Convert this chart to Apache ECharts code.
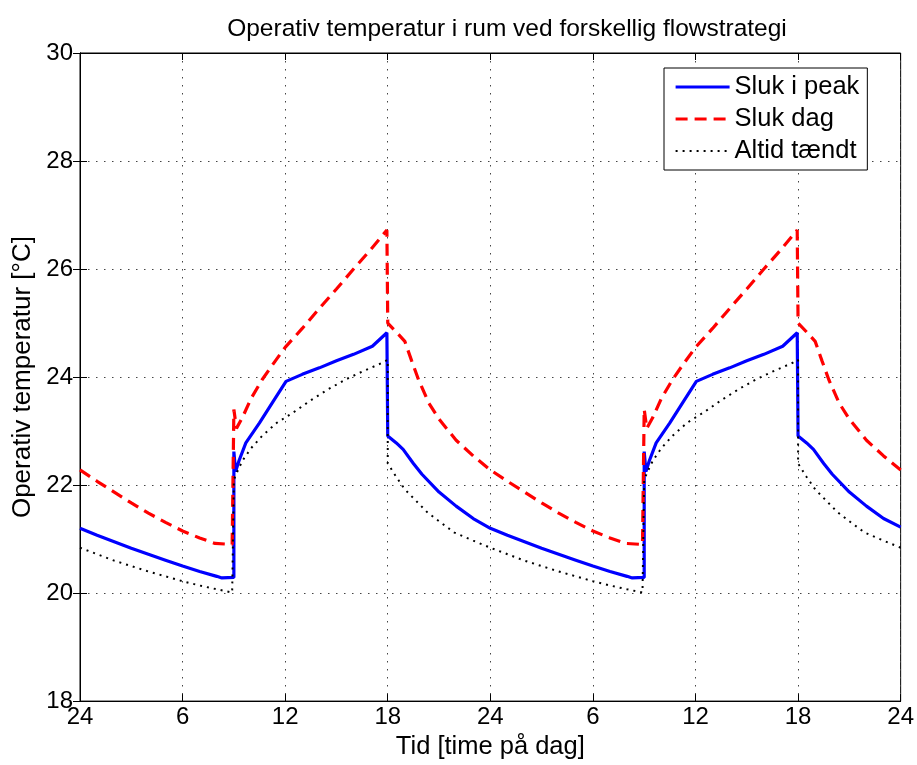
<!DOCTYPE html>
<html>
<head>
<meta charset="utf-8">
<script src="https://cdn.jsdelivr.net/npm/echarts@6/dist/echarts.min.js"></script>
<style>
html,body{margin:0;padding:0;background:#fff;}
#chart{width:917px;height:765px;}
</style>
</head>
<body>
<div id="chart"></div>
<script>
// ---- data ----
const xTickLabels = ['24','6','12','18','24','6','12','18','24'];
const seriesNames = ['Sluk i peak','Sluk dag','Altid tændt'];

const tPeak = [0,1,2,3,4,5,6,7,8,8.3,9.0,9.0,9.1,9.3,9.7,10.5,11.3,12.05,13,14,15,16,17.1,17.95,18.0,18.5,18.9,19.5,20,21,22,23,
  24,25,26,27,28,29,30,31,32,32.3,33.0,33.0,33.1,33.3,33.7,34.5,35.3,36.05,37,38,39,40,41.1,41.95,42.0,42.5,42.9,43.5,44,45,46,47,48];
const vPeak = [21.20,21.07,20.95,20.83,20.72,20.61,20.50,20.40,20.31,20.28,20.29,22.62,22.25,22.45,22.78,23.15,23.55,23.92,24.05,24.17,24.30,24.42,24.57,24.82,22.91,22.78,22.66,22.40,22.20,21.87,21.61,21.38,
  21.20,21.07,20.95,20.83,20.72,20.61,20.50,20.40,20.31,20.28,20.29,22.62,22.25,22.45,22.78,23.15,23.55,23.92,24.05,24.17,24.30,24.42,24.57,24.82,22.91,22.78,22.66,22.40,22.20,21.87,21.61,21.38,21.22];

const tDag = [0,1,2,3,4,5,6,7,7.9,8.9,9.0,9.15,9.5,10,10.65,11.2,12,13,14,15,16,17,17.95,18.0,18.6,19.0,19.4,19.8,20.4,21,22,23,
  24,25,26,27,28,29,30,31,31.9,32.9,33.0,33.15,33.5,34,34.65,35.2,36,37,38,39,40,41,41.95,42.0,42.6,43.0,43.4,43.8,44.4,45,46,47,48];
const vDag = [22.28,22.07,21.87,21.67,21.48,21.31,21.15,21.02,20.92,20.90,23.40,23.05,23.25,23.60,23.95,24.20,24.55,24.90,25.27,25.63,26.00,26.36,26.72,25.00,24.80,24.66,24.30,23.95,23.52,23.22,22.83,22.54,
  22.28,22.07,21.87,21.67,21.48,21.31,21.15,21.02,20.92,20.90,23.40,23.05,23.25,23.60,23.95,24.20,24.55,24.90,25.27,25.63,26.00,26.36,26.72,25.00,24.80,24.66,24.30,23.95,23.52,23.22,22.83,22.54,22.28];

const tAltid = [0,1,2,3,4,5,6,7,8,8.9,9.0,9.2,9.5,10,10.65,11.5,12.5,13.5,14.5,15.5,16.5,17.65,18.0,18.0,18.5,19,20.3,21,21.9,23,
  24,25,26,27,28,29,30,31,32,32.9,33.0,33.2,33.5,34,34.65,35.5,36.5,37.5,38.5,39.5,40.5,41.65,42.0,42.0,42.5,43,44.3,45,45.9,47,48];
const vAltid = [20.84,20.72,20.60,20.50,20.40,20.31,20.22,20.14,20.07,20.01,22.10,22.25,22.45,22.68,22.91,23.15,23.35,23.57,23.77,23.95,24.10,24.26,24.32,22.40,22.15,21.92,21.50,21.33,21.12,20.97,
  20.84,20.72,20.60,20.50,20.40,20.31,20.22,20.14,20.07,20.01,22.10,22.25,22.45,22.68,22.91,23.15,23.35,23.57,23.77,23.95,24.10,24.26,24.32,22.40,22.15,21.92,21.50,21.33,21.12,20.97,20.84];

function pairs(t, v){ return t.map((x,i)=>[x, v[i]]); }

const FONT = "'Liberation Sans', Arial, Helvetica, sans-serif";
const chart = echarts.init(document.getElementById('chart'), null, {renderer:'canvas'});

const gridLine = {show:true, lineStyle:{color:'#444', width:1, type:[1.5,6.5]}};
const option = {
  animation:false,
  backgroundColor:'#fff',
  textStyle:{fontFamily:FONT},
  title:{
    text:'Operativ temperatur i rum ved forskellig flowstrategi',
    left:502, top:12, textAlign:'center',
    textStyle:{fontFamily:FONT, fontSize:24.5, fontWeight:'normal', color:'#000'}
  },
  legend:{
    orient:'vertical', left:664, top:68,
    data:[
      {name:seriesNames[0], lineStyle:{width:3.2}},
      {name:seriesNames[1], lineStyle:{width:3.2}},
      {name:seriesNames[2], lineStyle:{width:2}}
    ],
    backgroundColor:'#fff', borderColor:'#000', borderWidth:1,
    padding:[6,8,6,10], itemGap:6, itemWidth:54, itemHeight:14,
    itemStyle:{opacity:0},
    textStyle:{fontFamily:FONT, fontSize:25.5, color:'#000', lineHeight:26}
  },
  grid:{left:80, right:15, top:53, bottom:63, show:true, borderColor:'#000', borderWidth:1, backgroundColor:'transparent'},
  xAxis:[{
    type:'value', min:0, max:48, interval:6, position:'bottom',
    name:'Tid [time på dag]', nameLocation:'middle', nameGap:30,
    nameTextStyle:{fontFamily:FONT, fontSize:25.5, color:'#000'},
    axisLine:{show:true, lineStyle:{color:'#000', width:1}},
    axisTick:{show:true, inside:true, length:7, lineStyle:{color:'#000'}},
    axisLabel:{fontFamily:FONT, fontSize:24, color:'#000', margin:4, showMinLabel:true, showMaxLabel:true,
      formatter:(v)=>xTickLabels[Math.round(v/6)]},
    splitLine:gridLine
  },{
    type:'value', min:0, max:48, interval:6, position:'top',
    axisLine:{show:true, lineStyle:{color:'#000'}},
    axisTick:{show:true, inside:true, length:7, lineStyle:{color:'#000'}},
    axisLabel:{show:false}, splitLine:{show:false}
  }],
  yAxis:[{
    type:'value', min:18, max:30, interval:2, position:'left',
    name:'Operativ temperatur [°C]', nameLocation:'middle', nameGap:38, nameRotate:90,
    nameTextStyle:{fontFamily:FONT, fontSize:26, color:'#000'},
    axisLine:{show:true, lineStyle:{color:'#000', width:1}},
    axisTick:{show:true, inside:true, length:7, lineStyle:{color:'#000'}},
    axisLabel:{fontFamily:FONT, fontSize:24, color:'#000', margin:7, showMinLabel:true, showMaxLabel:true},
    splitLine:gridLine
  },{
    type:'value', min:18, max:30, interval:2, position:'right',
    axisLine:{show:true, lineStyle:{color:'#000'}},
    axisTick:{show:true, inside:true, length:7, lineStyle:{color:'#000'}},
    axisLabel:{show:false}, splitLine:{show:false}
  }],
  series:[
    {name:seriesNames[0], type:'line', data:pairs(tPeak,vPeak), symbol:'none', showSymbol:false,
      lineStyle:{color:'#0000ff', width:3.2}, itemStyle:{color:'#0000ff'}, z:2},
    {name:seriesNames[1], type:'line', data:pairs(tDag,vDag), symbol:'none', showSymbol:false,
      lineStyle:{color:'#ff0000', width:3.2, type:[12,7]}, itemStyle:{color:'#ff0000'}, z:3},
    {name:seriesNames[2], type:'line', data:pairs(tAltid,vAltid), symbol:'none', showSymbol:false,
      lineStyle:{color:'#000000', width:2, type:[2,5]}, itemStyle:{color:'#000'}, z:4}
  ]
};
chart.setOption(option);
</script>
</body>
</html>
